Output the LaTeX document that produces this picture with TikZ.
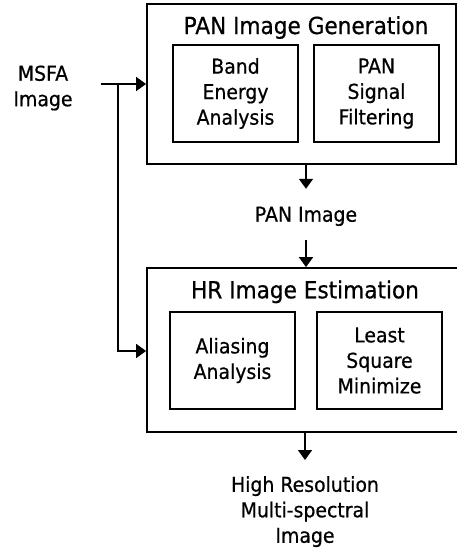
\documentclass[tikz,border=0pt]{standalone}
\usepackage{fontspec}
\setmainfont{DejaVu Sans}[FakeStretch=0.92,FakeBold=0.6]
\usetikzlibrary{arrows.meta}
\begin{document}
\begin{tikzpicture}[x=1pt,y=-1pt,
  lw/.style={line width=1.8pt},
  outerbox/.style={draw,lw,inner sep=0,minimum width=#1},
  innerbox/.style={draw,lw,inner sep=0,minimum width=125pt,minimum height=97pt,align=center,font=\fontsize{20.5}{25.5}\selectfont},
  titletext/.style={inner sep=0,anchor=base,font=\fontsize{23.5}{28}\selectfont},
  plaintext/.style={inner sep=0,align=center,font=\fontsize{20.5}{25.5}\selectfont},
  arr/.style={lw,-{Triangle[length=10pt,width=14pt]}}]
\useasboundingbox (0,0) rectangle (457,554);
% outer boxes
\node[outerbox=309pt,minimum height=160pt] (box1) at (301.5,84) {};
\node[outerbox=315pt,minimum height=164pt] (box2) at (304.5,350) {};
% titles
\node[titletext] (t1) at (306,34) {PAN Image Generation};
\node[titletext] (t2) at (305,298.3) {HR Image Estimation};
% inner boxes
\node[innerbox] (band) at (235.5,93.5) {Band\\Energy\\Analysis};
\node[innerbox] (pan) at (376.5,93.5) {PAN\\Signal\\Filtering};
\node[innerbox] (alias) at (232.5,360.5) {Aliasing\\Analysis};
\node[innerbox] (lsq) at (379.5,360.5) {Least\\Square\\Minimize};
% texts
\node[plaintext] (msfa) at (43,88) {MSFA\\Image};
\node[plaintext,anchor=base,text height=14pt,text depth=5pt] (panimg) at (306,221.7) {PAN Image};
\node[plaintext,anchor=north] (hrms) at (305,476) {High Resolution\\Multi-spectral\\Image};
% connectors
\coordinate (split) at (118,84);
\coordinate (corner) at (118,351);
\draw[arr] ([xshift=28pt]msfa.east |- split) -- (split) -- (box1.west |- split);
\draw[arr] (split) -- (corner) -- (box2.west |- corner);
\draw[arr,shorten >=18.7pt] (box1.south -| panimg) -- (panimg.north);
\draw[arr,shorten <=13pt] (panimg.south) -- (box2.north -| panimg);
\draw[arr,shorten >=16pt] (box2.south -| hrms) -- (hrms.north);
\end{tikzpicture}
\end{document}
